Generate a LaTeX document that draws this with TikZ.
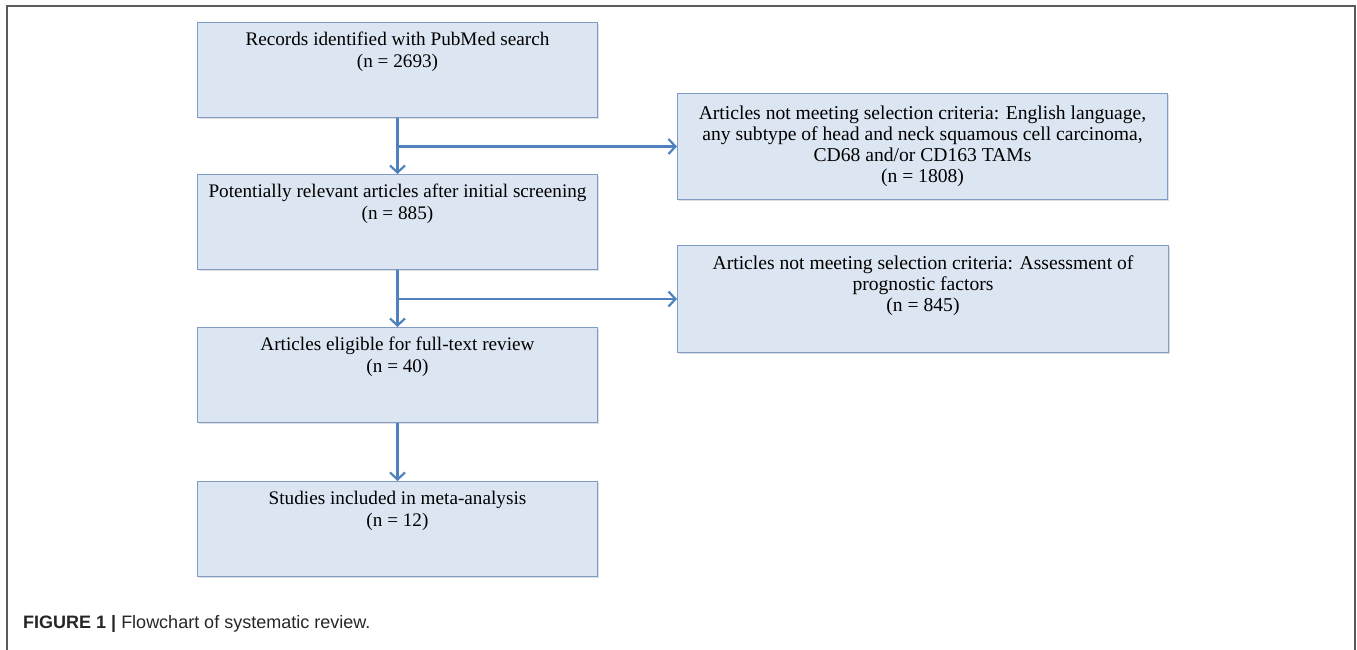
\documentclass[tikz,border=0pt]{standalone}
\usepackage{fontspec}
\setmainfont{Liberation Serif}
\newfontfamily\capfont{Liberation Sans}
\usetikzlibrary{arrows.meta,shadows,calc}
\definecolor{boxfill}{HTML}{DCE6F2}
\definecolor{boxline}{HTML}{7F9BC6}
\definecolor{arrowblue}{HTML}{4F81BD}
\definecolor{framegray}{HTML}{5A5A5A}
\tikzset{
  flowbox/.style={draw=boxline, fill=boxfill, line width=1pt, inner sep=0pt,
    anchor=north west, drop shadow={shadow xshift=1.5pt, shadow yshift=-1.5pt, opacity=0.25}},
  lefttxt/.style={anchor=north, inner sep=0pt, align=center,
    font=\fontsize{19.2}{22}\selectfont},
  righttxt/.style={anchor=north, inner sep=0pt, align=center,
    font=\fontsize{19.6}{21}\selectfont},
  flowarrow/.style={draw=arrowblue, line width=2.5pt,
    -{Straight Barb[length=7pt,width=15pt,line width=2.2pt]}},
  flowline/.style={draw=arrowblue, line width=2.5pt}
}
\begin{document}
\begin{tikzpicture}[x=1pt,y=-1pt]
\useasboundingbox (0,0) rectangle (1357,650);
% frame
\draw[framegray, line width=1.5pt] (7,650) -- (7,6) -- (1355,6) -- (1355,650);
% left boxes
\node[flowbox, minimum width=400pt, minimum height=95pt] (b1) at (197,22) {};
\node[flowbox, minimum width=400pt, minimum height=95pt] (b2) at (197,174) {};
\node[flowbox, minimum width=400pt, minimum height=95pt] (b3) at (197,327) {};
\node[flowbox, minimum width=400pt, minimum height=95pt] (b4) at (197,481) {};
% right boxes
\node[flowbox, minimum width=490pt, minimum height=106pt] (r1) at (677,93) {};
\node[flowbox, minimum width=491pt, minimum height=107pt] (r2) at (677,245) {};
% texts
\node[lefttxt] (t1) at ([yshift=-10pt]b1.north) {Records identified with PubMed search\\(n = 2693)};
\node[lefttxt] (t2) at ([yshift=-10pt]b2.north) {Potentially relevant articles after initial screening\\(n = 885)};
\node[lefttxt] (t3) at ([yshift=-10pt]b3.north) {Articles eligible for full-text review\\(n = 40)};
\node[lefttxt] (t4) at ([yshift=-10pt]b4.north) {Studies included in meta-analysis\\(n = 12)};
\node[righttxt] (u1) at ([yshift=-13pt]r1.north) {Articles not meeting selection criteria: English language,\\any subtype of head and neck squamous cell carcinoma,\\CD68 and/or CD163 TAMs\\(n = 1808)};
\node[righttxt] (u2) at ([yshift=-10pt]r2.north) {Articles not meeting selection criteria: Assessment of\\prognostic factors\\(n = 845)};
% connectors
\draw[flowarrow] (b1.south) -- (b2.north);
\draw[flowarrow] (b2.south) -- (b3.north);
\draw[flowarrow] (b3.south) -- (b4.north);
\coordinate (j1) at (b1.south |- r1.west);
\coordinate (j2) at (b2.south |- r2.west);
\draw[flowarrow] (j1) -- (r1.west);
\draw[flowarrow] (j2) -- (r2.west);
% caption
\node[anchor=base west, inner sep=0pt, text=black!85, font=\capfont\fontsize{18}{22}\selectfont] (cap) at (23,628) {\textbf{FIGURE 1 |} Flowchart of systematic review.};
\end{tikzpicture}
\end{document}
